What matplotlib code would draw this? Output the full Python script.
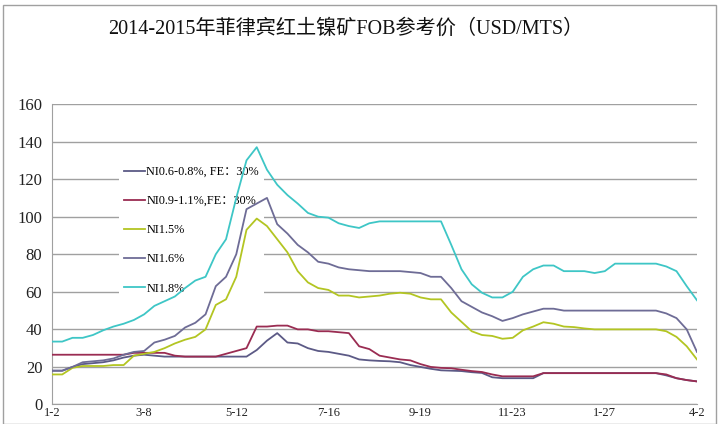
import matplotlib
matplotlib.use('Agg')
import matplotlib.pyplot as plt
from matplotlib.patches import Rectangle

plt.rcParams['font.family'] = ['Liberation Serif', 'Noto Sans CJK SC', 'DejaVu Sans']

# 数据
tick_labels = ['1-2', '3-8', '5-12', '7-16', '9-19', '11-23', '1-27', '4-2']
series_names = ['NI0.6-0.8%, FE：30%', 'NI0.9-1.1%,FE：30%', 'NI1.5%', 'NI1.6%', 'NI1.8%']

ni06 = [18, 18, 20, 21.5, 22, 22.5, 23.5, 25, 26, 26.5,
        26, 25.5, 25.5, 25.5, 25.5, 25.5, 25.5, 25.5, 25.5, 25.5,
        29, 34, 38, 33, 32.5, 30, 28.5, 28, 27, 26,
        24, 23.5, 23.2, 23, 22.5, 21, 20, 19, 18.2, 18,
        17.8, 17.2, 16.8, 14.5, 14, 14, 14, 14, 16.7, 16.7,
        16.7, 16.7, 16.7, 16.7, 16.7, 16.7, 16.7, 16.7, 16.7, 16.7,
        15.5, 14, 13, 12.3]
ni09 = [26.5, 26.5, 26.5, 26.5, 26.5, 26.5, 26.5, 26.5, 27.5, 27.5,
        27.5, 27.5, 26, 25.5, 25.5, 25.5, 25.5, 27, 28.5, 30,
        41.5, 41.5, 42, 42, 40, 40, 39, 39, 38.5, 38,
        31, 29.5, 26, 25, 24, 23.5, 21.5, 20, 19.5, 19.3,
        18.5, 17.8, 17.3, 16, 15, 15, 15, 15, 16.7, 16.7,
        16.7, 16.7, 16.7, 16.7, 16.7, 16.7, 16.7, 16.7, 16.7, 16.7,
        16, 14, 13, 12.3]
ni15 = [16, 16, 19.5, 20.5, 20.5, 20.5, 21, 21, 26, 27,
        28, 30, 32.5, 34.5, 36, 40, 53, 56, 68, 93,
        99, 95, 88, 81, 71, 65, 62, 61, 58, 58,
        57, 57.5, 58, 59, 59.5, 59, 57, 56, 56, 49,
        44, 39, 37, 36.5, 35, 35.5, 39.5, 41.5, 43.8, 43,
        41.5, 41.2, 40.5, 40, 40, 40, 40, 40, 40, 40,
        39, 36, 31, 24]
ni16 = [18, 18, 20, 22.5, 23, 23.5, 24.5, 26.5, 28, 28.5,
        33, 34.5, 36.5, 41, 43.5, 48, 63, 68, 80, 104,
        107, 110, 96, 91, 85, 81, 76, 75, 73, 72,
        71.5, 71, 71, 71, 71, 70.5, 70, 68, 68, 62,
        55, 52, 49, 47, 44.5, 46, 48, 49.5, 51, 51,
        50, 50, 50, 50, 50, 50, 50, 50, 50, 50,
        48.5, 46, 40, 28]
ni18 = [33.5, 33.5, 35.5, 35.5, 37, 39.5, 41.5, 43, 45, 48,
        52.5, 55, 57.5, 62, 66, 68, 80, 88, 110, 130,
        137, 125, 117, 111.5, 107, 102, 100, 99.5, 96.5, 95,
        94, 96.5, 97.5, 97.5, 97.5, 97.5, 97.5, 97.5, 97.5, 85,
        72, 64, 59.5, 57, 57, 60, 68, 72, 74, 74,
        71, 71, 71, 70, 71, 75, 75, 75, 75, 75,
        73.5, 71, 63, 55.5]

colors = ['#5C5A86', '#9A2C52', '#B3C522', '#6E6C96', '#3EC6C6']

fig = plt.figure(figsize=(7.2, 4.24), dpi=100)
ax = fig.add_axes([0.0722, 0.046, 0.8958, 0.7087])

# 外框
fig.patches.append(Rectangle((0.004, 0.0), 0.99, 0.988, transform=fig.transFigure,
                             fill=False, edgecolor='#A0A0A0', linewidth=1.0))

x = list(range(len(ni18)))
for data, name, c in zip([ni06, ni09, ni15, ni16, ni18], series_names, colors):
    ax.plot(x, data, color=c, linewidth=1.3, label=name, zorder=3)

# 坐标轴
ax.set_xlim(0, len(ni18) - 1)
ax.set_ylim(0, 160)
ax.set_yticks(range(0, 161, 20))
ax.set_xticks(range(0, len(ni18), 9))
ax.set_xticklabels(tick_labels)
ax.tick_params(axis='both', length=0, colors='#222222')
ax.tick_params(axis='x', pad=2, labelsize=9)
ax.tick_params(axis='y', pad=7, labelsize=12)
ax.yaxis.grid(True, color='#A0A0A0', linewidth=1.0)
ax.set_axisbelow(True)
for side in ['top', 'right']:
    ax.spines[side].set_visible(False)
for side in ['left', 'bottom']:
    ax.spines[side].set_color('#A0A0A0')

# 标题
fig.text(0.48, 0.932, '2014-2015年菲律宾红土镍矿FOB参考价（USD/MTS）', ha='center', va='center',
         fontsize=14.5, color='#111111')

# 图例（放在曲线下面，只盖住网格线）
leg = ax.legend(loc='upper left', bbox_to_anchor=(0.095, 0.83), fontsize=8.8,
                handlelength=1.7, handletextpad=0.1, labelspacing=1.4,
                frameon=True, fancybox=False, framealpha=1.0,
                facecolor='white', edgecolor='none', borderpad=0.4)
leg.set_zorder(1)

fig.savefig('out.png', dpi=100)
